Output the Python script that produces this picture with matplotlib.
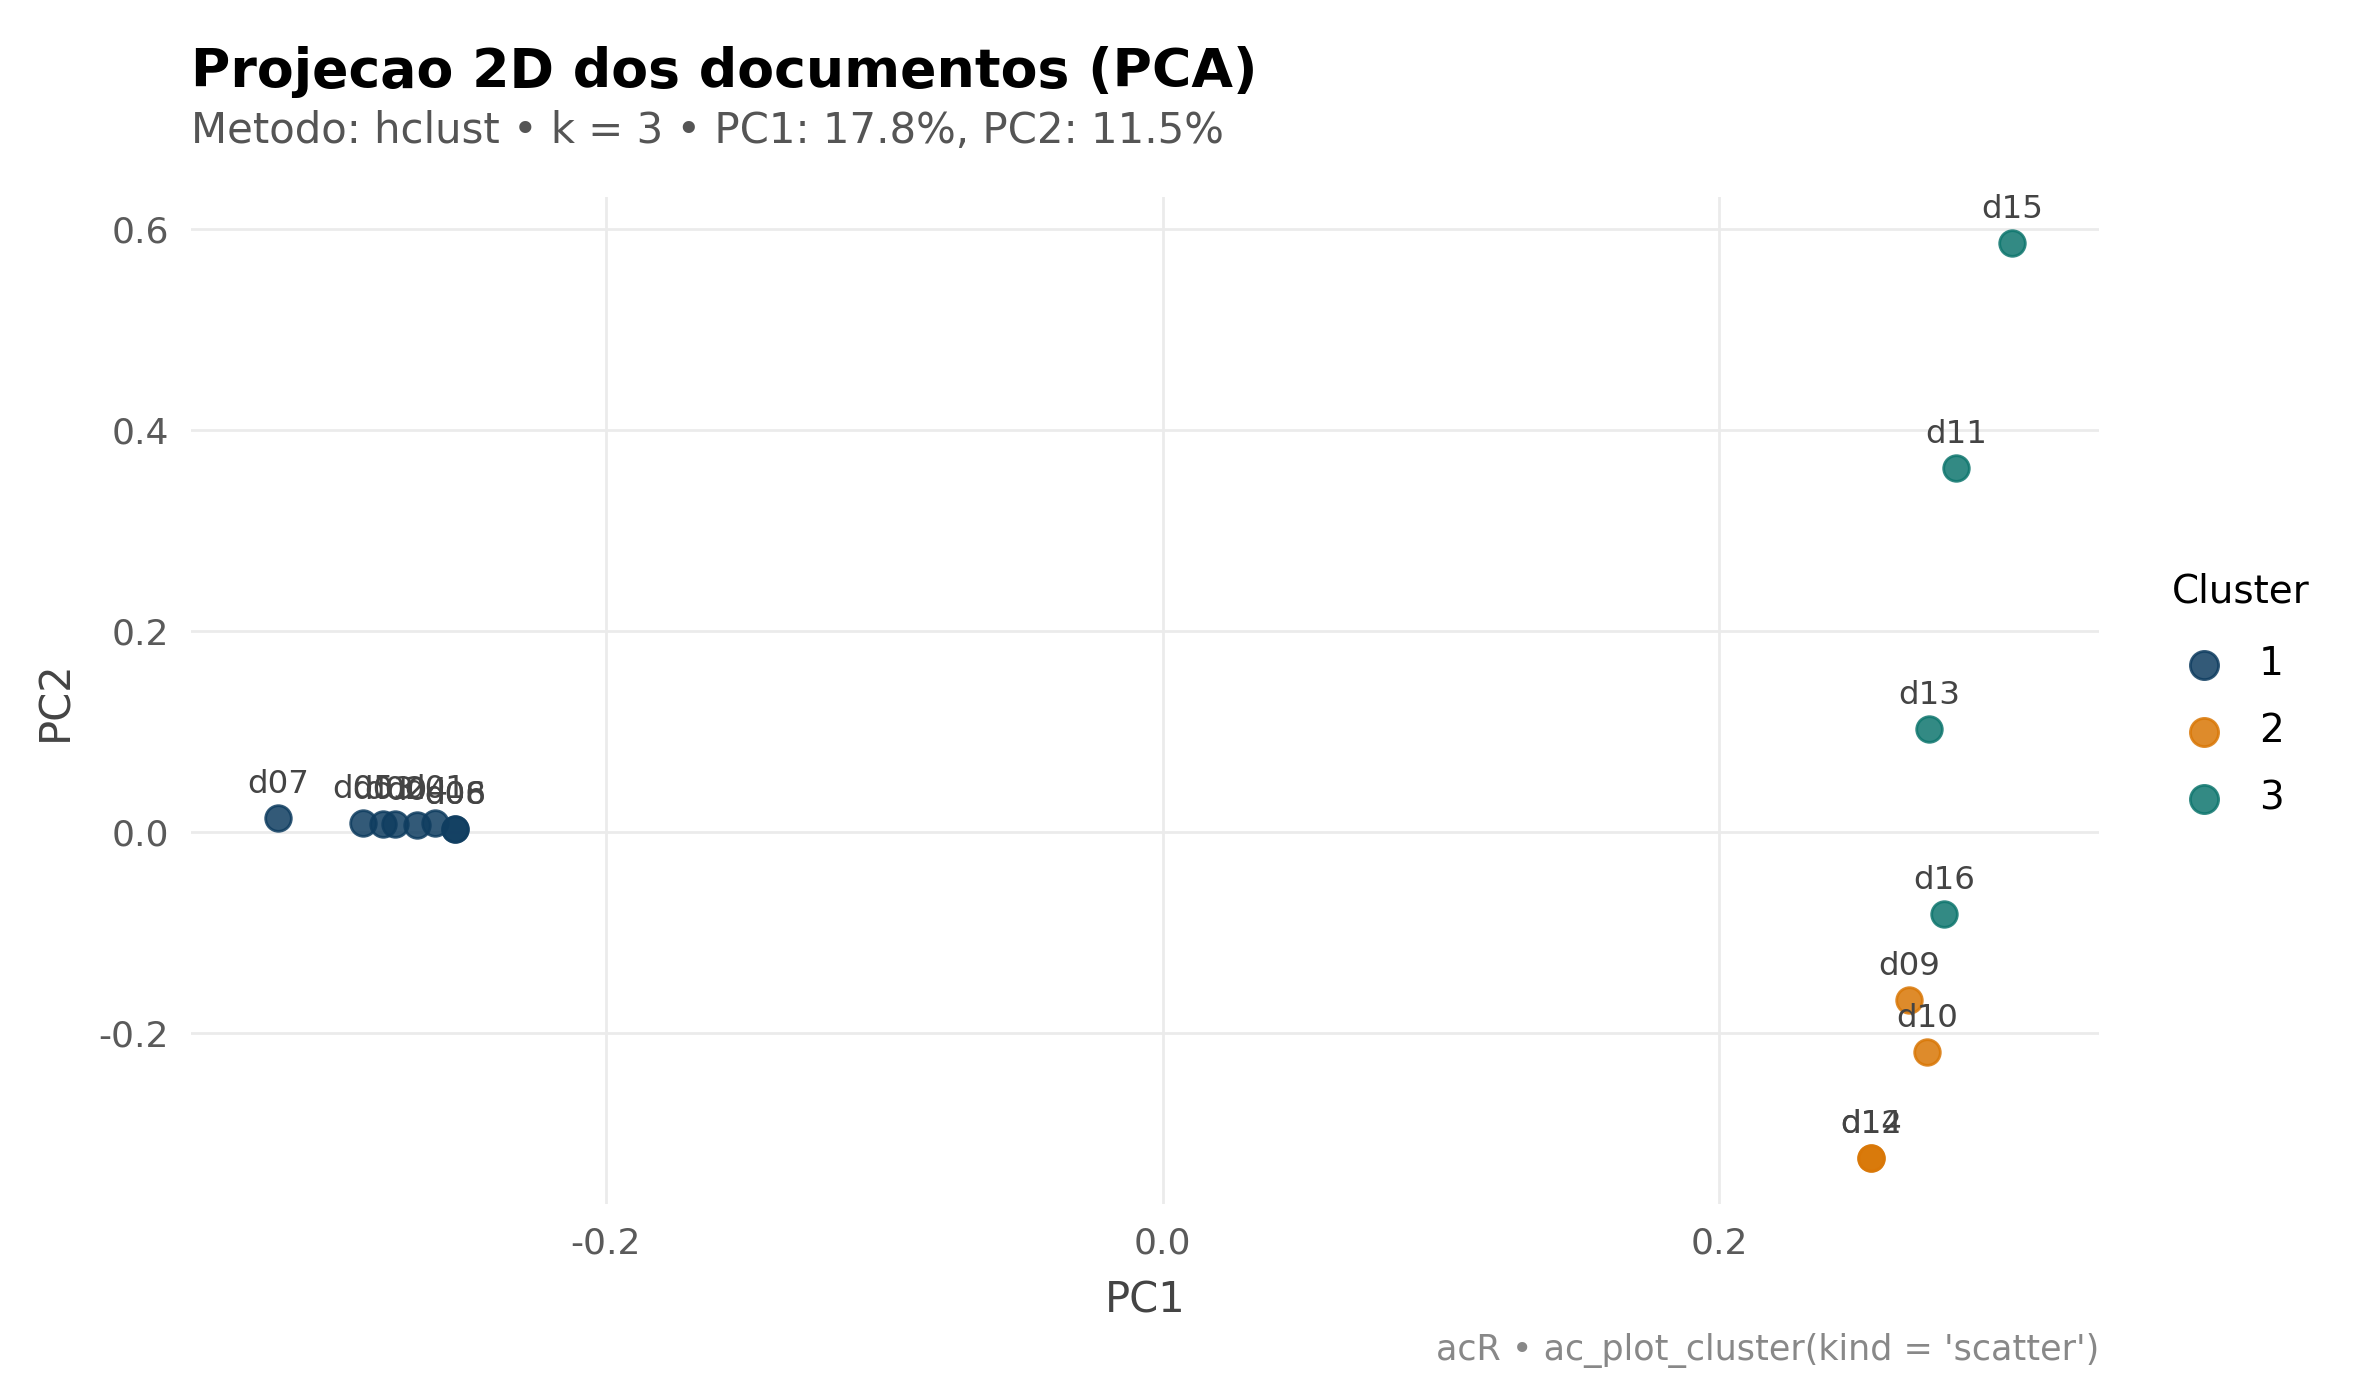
import numpy as np
import matplotlib.pyplot as plt

# PCA coordinates
docs = ["d01", "d02", "d03", "d04", "d05", "d06", "d07", "d08",
        "d09", "d10", "d11", "d12", "d13", "d14", "d15", "d16"]
pc1 = [-0.2612, -0.2757, -0.2800, -0.2677, -0.2872, -0.2541, -0.3177, -0.2541,
       0.2681, 0.2747, 0.2850, 0.2545, 0.2752, 0.2545, 0.3052, 0.2807]
pc2 = [0.0085, 0.0075, 0.0080, 0.0070, 0.0090, 0.0030, 0.0136, 0.0030,
       -0.1675, -0.2189, 0.3623, -0.3245, 0.1026, -0.3245, 0.5857, -0.0815]
cluster = [1, 1, 1, 1, 1, 1, 1, 1,
           2, 2, 3, 2, 3, 2, 3, 3]

cluster_ids = [1, 2, 3]
cluster_colors = {1: "#0F3D60", 2: "#D97706", 3: "#0F766E"}

pc1 = np.array(pc1)
pc2 = np.array(pc2)
cluster = np.array(cluster)

plt.rcParams["font.family"] = ["DejaVu Sans"]

fig = plt.figure(figsize=(11.9, 7), dpi=200)
ax = fig.add_axes([0.0803, 0.140, 0.8017, 0.719])

for k in cluster_ids:
    m = cluster == k
    ax.scatter(pc1[m], pc2[m], s=85, color=cluster_colors[k], alpha=0.85,
               edgecolors=cluster_colors[k], linewidths=1.0, label=str(k), zorder=3)

for name, x, y in zip(docs, pc1, pc2):
    ax.annotate(name, (x, y), xytext=(0, 9), textcoords="offset points",
                ha="center", va="baseline", fontsize=11.7, color="#444444", zorder=4)

# ggplot-like 5% expansion
xr = pc1.max() - pc1.min()
yr = pc2.max() - pc2.min()
ax.set_xlim(pc1.min() - 0.05 * xr, pc1.max() + 0.05 * xr)
ax.set_ylim(pc2.min() - 0.05 * yr, pc2.max() + 0.05 * yr)

ax.set_xticks([-0.2, 0.0, 0.2])
ax.set_yticks([-0.2, 0.0, 0.2, 0.4, 0.6])
ax.set_xticklabels(["-0.2", "0.0", "0.2"])
ax.set_yticklabels(["-0.2", "0.0", "0.2", "0.4", "0.6"])
ax.grid(True, color="#EBEBEB", linewidth=1.0, zorder=0)
ax.set_axisbelow(True)
for sp in ax.spines.values():
    sp.set_visible(False)
ax.tick_params(length=0, labelsize=13, labelcolor="#5A5A5A", pad=8)

ax.set_xlabel("PC1", fontsize=15, color="#444444", labelpad=7)
ax.set_ylabel("PC2", fontsize=15, color="#444444", labelpad=8)

leg = ax.legend(title="Cluster", loc="center left", bbox_to_anchor=(1.03, 0.506),
                frameon=False, fontsize=14, title_fontsize=14, labelspacing=0.75,
                handlelength=1.64, handletextpad=0.6, markerscale=1.1,
                alignment="left", borderaxespad=0)
leg._legend_box.sep = 12.5

fig.text(0.0803, 0.938, "Projecao 2D dos documentos (PCA)", fontsize=19.35,
         fontweight="bold", color="black", ha="left", va="baseline")
fig.text(0.0803, 0.898, "Metodo: hclust \u2022 k = 3 \u2022 PC1: 17.8%, PC2: 11.5%",
         fontsize=15.1, color="#555555", ha="left", va="baseline")
fig.text(0.882, 0.0286, "acR \u2022 ac_plot_cluster(kind = 'scatter')", fontsize=12.6,
         color="#888888", ha="right", va="baseline")

fig.savefig("out.png", dpi=200, facecolor="white")
